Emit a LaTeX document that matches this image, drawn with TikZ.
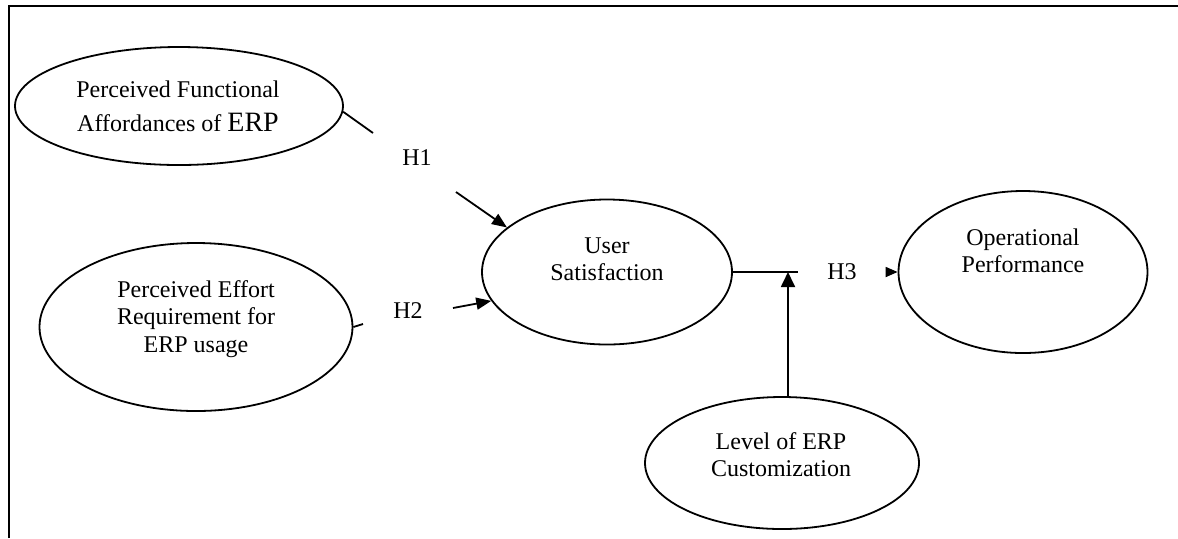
\documentclass[tikz,border=0pt]{standalone}
\usepackage{fontspec}
\setmainfont{Liberation Serif}
\usetikzlibrary{arrows.meta,shapes.geometric}
\begin{document}
\begin{tikzpicture}[x=0.5pt,y=-0.5pt,
  oval/.style={draw,ellipse,line width=0.9pt,inner sep=0pt},
  lbl/.style={align=center,inner sep=0pt,font=\fontsize{12}{13.6}\selectfont},
  hyp/.style={inner sep=0pt,font=\fontsize{12}{13.6}\selectfont},
  conn/.style={line width=0.9pt},
  tipA/.style={-{Triangle[length=7.5pt,width=6pt]}},
  tipB/.style={-{Triangle[length=7.5pt,width=7pt]}},
  tipC/.style={-{Triangle[length=6pt,width=5pt]}}]
\useasboundingbox (0,0) rectangle (1178,538);
% frame
\draw[line width=1.3pt] (9,538) -- (9,6) -- (1178,6);
% ellipses
\node[oval,minimum width=164pt,minimum height=59pt] (pfa) at (179,106) {};
\node[oval,minimum width=156.5pt,minimum height=84pt] (per) at (196,327) {};
\node[oval,minimum width=125pt,minimum height=72.5pt] (us) at (607,272) {};
\node[oval,minimum width=124.5pt,minimum height=81pt] (op) at (1023,272) {};
\node[oval,minimum width=137pt,minimum height=66pt] (lec) at (782,463) {};
% texts
\node[lbl,font=\fontsize{12}{17}\selectfont] (tpfa) at (178,106) {Perceived Functional\\Affordances of {\fontsize{14}{17}\selectfont ERP}};
\node[lbl] (tper) at (196,319) {Perceived Effort\\Requirement for\\ERP usage};
\node[lbl] (tus) at (607,259) {User\\Satisfaction};
\node[lbl] (top) at (1023,251) {Operational\\Performance};
\node[lbl] (tlec) at (781,455) {Level of ERP\\Customization};
% hypothesis labels
\node[hyp] (h1) at (417,158) {H1};
\node[hyp] (h2) at (408,311) {H2};
\node[hyp] (h3) at (842,272) {H3};
% connector points
\coordinate (h1a) at (373,133);
\coordinate (h1b) at (456,192);
\coordinate (h2a) at (363,324);
\coordinate (h2b) at (453,308);
\coordinate (m) at (788,272);
\coordinate (me) at (798,272);
\coordinate (h3a) at (887,272);
% connectors
\draw[conn] (pfa.-2) -- (h1a);
\draw[conn,tipA] (h1b) -- (us.156);
\draw[conn] (per.east) -- (h2a);
\draw[conn,tipA] (h2b) -- (us.194);
\draw[conn] (us.east) -- (me);
\draw[conn,tipB] (lec.north -| m) -- (m);
\draw[conn,tipC] (h3a) -- (op.west);
\end{tikzpicture}
\end{document}
